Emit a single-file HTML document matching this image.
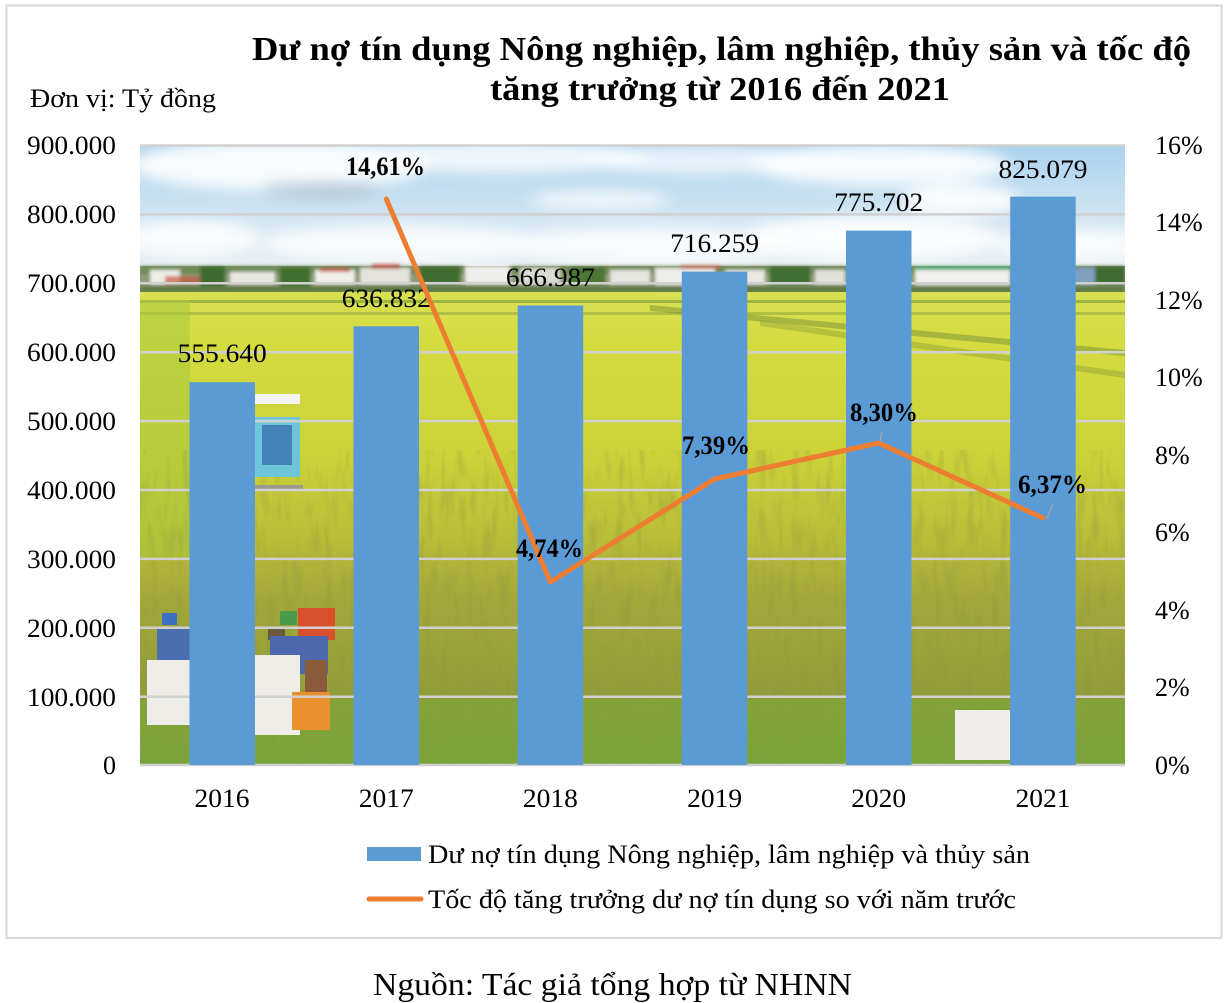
<!DOCTYPE html>
<html><head><meta charset="utf-8"><style>
html,body{margin:0;padding:0;background:#fff;}
svg{display:block;}
text{font-family:"Liberation Serif","Noto Serif CJK SC",serif;fill:#000;}
.b{font-weight:bold;}
</style></head><body>
<svg width="1226" height="1003" viewBox="0 0 1226 1003" xmlns="http://www.w3.org/2000/svg">
<defs>
<clipPath id="pc"><rect x="140" y="145" width="985" height="620"/></clipPath>
<linearGradient id="sky" x1="0" y1="145" x2="0" y2="265" gradientUnits="userSpaceOnUse">
<stop offset="0" stop-color="#aad2ee"/><stop offset="0.55" stop-color="#cde3f1"/><stop offset="1" stop-color="#e8eff3"/>
</linearGradient>
<linearGradient id="field" x1="0" y1="292" x2="0" y2="765" gradientUnits="userSpaceOnUse">
<stop offset="0" stop-color="#d9e052"/><stop offset="0.1" stop-color="#d4dc40"/><stop offset="0.35" stop-color="#cbd238"/>
<stop offset="0.52" stop-color="#b9bd38"/><stop offset="0.65" stop-color="#a3a83a"/><stop offset="0.85" stop-color="#929c3a"/><stop offset="1" stop-color="#7fa03a"/>
</linearGradient>
<filter id="blur6" x="-20%" y="-60%" width="140%" height="220%"><feGaussianBlur stdDeviation="7"/></filter>
<filter id="blur2"><feGaussianBlur stdDeviation="1.5"/></filter>
<filter id="tex" x="0" y="0" width="100%" height="100%">
<feTurbulence type="fractalNoise" baseFrequency="0.12 0.025" numOctaves="2" seed="3"/>
<feColorMatrix type="matrix" values="0 0 0 0 0.25  0 0 0 0 0.3  0 0 0 0 0.05  1.6 0 0 0 -0.75"/>
</filter>
</defs>

<rect x="6.5" y="5.5" width="1215" height="932.5" fill="none" stroke="#d9d9d9" stroke-width="2"/>

<text class="b" x="252" y="60" font-size="34" textLength="939" lengthAdjust="spacingAndGlyphs">Dư nợ tín dụng Nông nghiệp, lâm nghiệp, thủy sản và tốc độ</text>
<text class="b" x="490" y="100" font-size="34" textLength="460" lengthAdjust="spacingAndGlyphs">tăng trưởng từ 2016 đến 2021</text>
<text x="30" y="107" font-size="26" textLength="186" lengthAdjust="spacingAndGlyphs">Đơn vị: Tỷ đồng</text>

<g clip-path="url(#pc)">
<rect x="140" y="145" width="985" height="125" fill="url(#sky)"/>
<g filter="url(#blur6)" fill="#fff">
<ellipse cx="280" cy="165" rx="150" ry="26" opacity="0.9"/>
<ellipse cx="500" cy="157" rx="150" ry="16" opacity="0.8"/>
<ellipse cx="700" cy="160" rx="120" ry="14" opacity="0.7"/>
<ellipse cx="880" cy="165" rx="130" ry="20" opacity="0.9"/>
<ellipse cx="960" cy="200" rx="60" ry="16" opacity="0.9"/>
<ellipse cx="600" cy="200" rx="70" ry="10" opacity="0.7"/>
<ellipse cx="190" cy="238" rx="70" ry="18" opacity="0.85"/>
<ellipse cx="400" cy="243" rx="140" ry="18" opacity="0.8"/>
<ellipse cx="650" cy="245" rx="140" ry="18" opacity="0.8"/>
<ellipse cx="870" cy="238" rx="130" ry="22" opacity="0.9"/>
<ellipse cx="1075" cy="245" rx="80" ry="16" opacity="0.8"/>
</g>
<ellipse cx="320" cy="190" rx="60" ry="8" fill="#a3b5c6" opacity="0.6" filter="url(#blur6)"/>
<rect x="140" y="266" width="985" height="27" fill="#8e9a78"/>
<g filter="url(#blur2)">
<rect x="140" y="266" width="985" height="8" fill="#6d8a55"/>
<rect x="140" y="286" width="985" height="7" fill="#5f7a45"/>
<rect x="150" y="270" width="30" height="14" fill="#edeee8"/>
<rect x="165" y="276" width="35" height="8" fill="#c8563c" opacity="0.7"/>
<rect x="200" y="266" width="25" height="20" fill="#3e6a2f"/>
<rect x="230" y="272" width="45" height="12" fill="#e8e8e2"/>
<rect x="280" y="267" width="30" height="19" fill="#41702e"/>
<rect x="315" y="270" width="40" height="14" fill="#f0efe9"/>
<rect x="320" y="268" width="30" height="4" fill="#c8453a" opacity="0.7"/>
<rect x="360" y="268" width="50" height="16" fill="#e4e4dc"/>
<rect x="372" y="264" width="28" height="5" fill="#c03a34" opacity="0.7"/>
<rect x="420" y="266" width="40" height="18" fill="#3f6c31"/>
<rect x="465" y="266" width="45" height="18" fill="#eeeeea"/>
<rect x="520" y="268" width="40" height="16" fill="#dcdcd4"/>
<rect x="570" y="267" width="35" height="17" fill="#4c7636"/>
<rect x="610" y="270" width="40" height="14" fill="#e6e6e0"/>
<rect x="655" y="268" width="60" height="17" fill="#eeeeea"/>
<rect x="680" y="265" width="40" height="4" fill="#c65a3e" opacity="0.7"/>
<rect x="725" y="270" width="40" height="14" fill="#e9e8e2"/>
<rect x="770" y="266" width="40" height="18" fill="#3f6d30"/>
<rect x="815" y="270" width="30" height="14" fill="#e2e2da"/>
<rect x="850" y="267" width="30" height="17" fill="#4a7434"/>
<rect x="915" y="268" width="95" height="17" fill="#f0f0ec"/>
<rect x="915" y="266" width="95" height="4" fill="#4aa877"/>
<rect x="1015" y="264" width="40" height="20" fill="#3c6a2e"/>
<rect x="1060" y="268" width="40" height="16" fill="#7f9fbf"/>
<rect x="1095" y="266" width="30" height="18" fill="#3f6b30"/>
</g>
<rect x="140" y="292" width="985" height="473" fill="url(#field)"/>
<rect x="140" y="300" width="985" height="3" fill="#7a9a3a" opacity="0.6"/>
<rect x="140" y="312" width="985" height="3" fill="#8aa03c" opacity="0.5"/>
<polygon points="140,300 190,300 190,560 140,560" fill="#a9c83c" opacity="0.55"/>
<polygon points="650,305 1125,350 1125,356 650,311" fill="#6d8838" opacity="0.45"/>
<polygon points="760,320 1125,372 1125,378 760,326" fill="#7b8f36" opacity="0.35"/>
<rect x="140" y="450" width="985" height="315" filter="url(#tex)" opacity="0.55"/>
<rect x="140" y="700" width="985" height="65" fill="#6fae3c" opacity="0.35"/>
<rect x="255" y="394" width="45" height="10" fill="#f2f2f2"/>
<rect x="255" y="417" width="45" height="60" fill="#6cc6d8"/>
<rect x="262" y="425" width="30" height="40" fill="#3b6fb0" opacity="0.8"/>
<rect x="255" y="485" width="48" height="6" fill="#9a9a8a"/>
<rect x="162" y="613" width="15" height="12" fill="#3f6fc0"/>
<rect x="157" y="627" width="33" height="38" fill="#4a6fb0"/>
<rect x="147" y="660" width="43" height="65" fill="#eeece6"/>
<rect x="298" y="608" width="37" height="32" fill="#d8502c"/>
<rect x="280" y="611" width="17" height="14" fill="#4a9a4a"/>
<rect x="268" y="628" width="17" height="12" fill="#6a5a3a"/>
<rect x="270" y="636" width="58" height="38" fill="#4e68b0"/>
<rect x="305" y="660" width="22" height="35" fill="#8a5a3a"/>
<rect x="255" y="655" width="45" height="80" fill="#efede8"/>
<rect x="292" y="692" width="38" height="38" fill="#e8902e"/>
<rect x="955" y="710" width="55" height="50" fill="#f0eeea"/>
</g>

<g stroke="#d0d0d0" stroke-width="2.5">
<line x1="140" y1="145.5" x2="1125" y2="145.5"/>
<line x1="140" y1="214.4" x2="1125" y2="214.4"/>
<line x1="140" y1="283.3" x2="1125" y2="283.3"/>
<line x1="140" y1="352.2" x2="1125" y2="352.2"/>
<line x1="140" y1="421.1" x2="1125" y2="421.1"/>
<line x1="140" y1="490" x2="1125" y2="490"/>
<line x1="140" y1="558.9" x2="1125" y2="558.9"/>
<line x1="140" y1="627.8" x2="1125" y2="627.8"/>
<line x1="140" y1="696.7" x2="1125" y2="696.7"/>
<line x1="140" y1="765" x2="1125" y2="765"/>
</g>

<g fill="#5b9bd5">
<rect x="189.5" y="382.2" width="65.5" height="382.8"/>
<rect x="353.5" y="326.3" width="65.5" height="438.7"/>
<rect x="517.7" y="305.5" width="65.5" height="459.5"/>
<rect x="681.8" y="271.6" width="65.5" height="493.4"/>
<rect x="846" y="230.6" width="65.5" height="534.4"/>
<rect x="1010.2" y="196.6" width="65.5" height="568.4"/>
</g>

<g font-size="26" text-anchor="middle">
<text x="222.2" y="362" textLength="89" lengthAdjust="spacingAndGlyphs">555.640</text>
<text x="386.3" y="307" textLength="89" lengthAdjust="spacingAndGlyphs">636.832</text>
<text x="550.4" y="286" textLength="89" lengthAdjust="spacingAndGlyphs">666.987</text>
<text x="714.6" y="252" textLength="89" lengthAdjust="spacingAndGlyphs">716.259</text>
<text x="878.7" y="211" textLength="89" lengthAdjust="spacingAndGlyphs">775.702</text>
<text x="1043" y="178" textLength="89" lengthAdjust="spacingAndGlyphs">825.079</text>
</g>

<polyline points="386.3,199 550.4,582 714.6,479 878.7,443 1043,518" fill="none" stroke="#ed7d31" stroke-width="5" stroke-linejoin="round" stroke-linecap="round"/>
<line x1="882" y1="431" x2="880" y2="442" stroke="#a6a6a6" stroke-width="1.2"/>
<line x1="1053" y1="504" x2="1047" y2="518" stroke="#a6a6a6" stroke-width="1.2"/>

<g class="b" font-size="26" font-weight="bold" text-anchor="middle">
<text x="385.5" y="175" textLength="79" lengthAdjust="spacingAndGlyphs">14,61%</text>
<text x="549.5" y="557" textLength="67" lengthAdjust="spacingAndGlyphs">4,74%</text>
<text x="716" y="454" textLength="68" lengthAdjust="spacingAndGlyphs">7,39%</text>
<text x="884" y="421" textLength="68" lengthAdjust="spacingAndGlyphs">8,30%</text>
<text x="1052.5" y="493" textLength="69" lengthAdjust="spacingAndGlyphs">6,37%</text>
</g>

<g font-size="26" text-anchor="end">
<text x="116" y="154" textLength="89" lengthAdjust="spacingAndGlyphs">900.000</text>
<text x="116" y="223" textLength="89" lengthAdjust="spacingAndGlyphs">800.000</text>
<text x="116" y="292" textLength="89" lengthAdjust="spacingAndGlyphs">700.000</text>
<text x="116" y="361" textLength="89" lengthAdjust="spacingAndGlyphs">600.000</text>
<text x="116" y="430" textLength="89" lengthAdjust="spacingAndGlyphs">500.000</text>
<text x="116" y="499" textLength="89" lengthAdjust="spacingAndGlyphs">400.000</text>
<text x="116" y="568" textLength="89" lengthAdjust="spacingAndGlyphs">300.000</text>
<text x="116" y="637" textLength="89" lengthAdjust="spacingAndGlyphs">200.000</text>
<text x="116" y="706" textLength="89" lengthAdjust="spacingAndGlyphs">100.000</text>
<text x="116" y="774">0</text>
</g>

<g font-size="26">
<text x="1155" y="154">16%</text>
<text x="1155" y="231">14%</text>
<text x="1155" y="309">12%</text>
<text x="1155" y="386">10%</text>
<text x="1155" y="464">8%</text>
<text x="1155" y="541">6%</text>
<text x="1155" y="619">4%</text>
<text x="1155" y="696">2%</text>
<text x="1155" y="774">0%</text>
</g>

<g font-size="26" text-anchor="middle">
<text x="222" y="807" textLength="55" lengthAdjust="spacingAndGlyphs">2016</text>
<text x="386.3" y="807" textLength="55" lengthAdjust="spacingAndGlyphs">2017</text>
<text x="550.4" y="807" textLength="55" lengthAdjust="spacingAndGlyphs">2018</text>
<text x="714.6" y="807" textLength="55" lengthAdjust="spacingAndGlyphs">2019</text>
<text x="878.7" y="807" textLength="55" lengthAdjust="spacingAndGlyphs">2020</text>
<text x="1043" y="807" textLength="55" lengthAdjust="spacingAndGlyphs">2021</text>
</g>

<rect x="367" y="847" width="54" height="14" fill="#5b9bd5"/>
<text x="428" y="863" font-size="26" textLength="602" lengthAdjust="spacingAndGlyphs">Dư nợ tín dụng Nông nghiệp, lâm nghiệp và thủy sản</text>
<line x1="369" y1="899" x2="421" y2="899" stroke="#ed7d31" stroke-width="5" stroke-linecap="round"/>
<text x="428" y="908" font-size="26" textLength="588" lengthAdjust="spacingAndGlyphs">Tốc độ tăng trưởng dư nợ tín dụng so với năm trước</text>

<text x="373" y="995" font-size="32" textLength="479" lengthAdjust="spacingAndGlyphs">Nguồn: Tác giả tổng hợp từ NHNN</text>
</svg>
</body></html>
